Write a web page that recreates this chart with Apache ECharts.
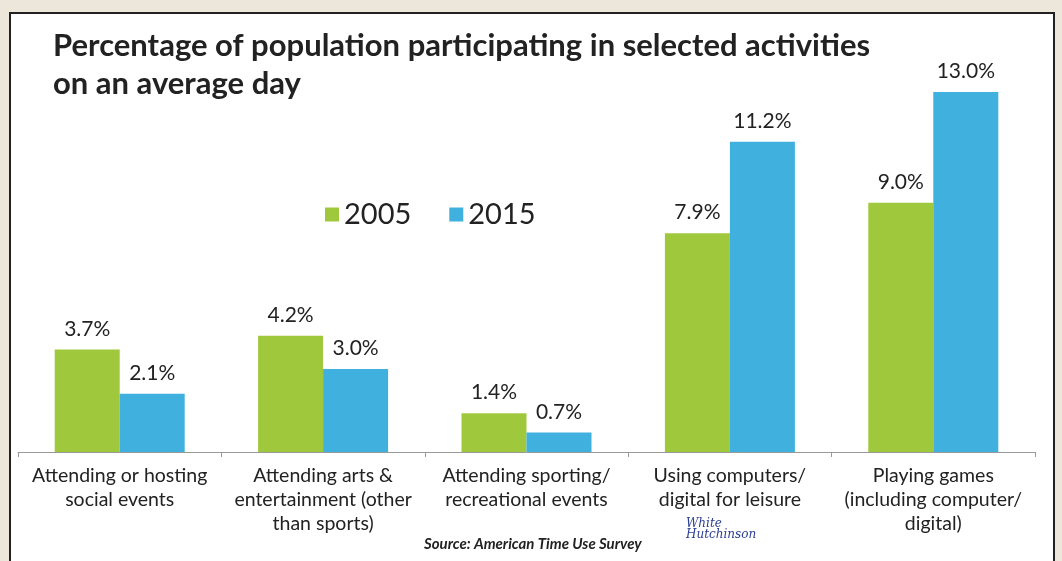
<!DOCTYPE html>
<html>
<head>
<meta charset="utf-8">
<script src="https://cdn.jsdelivr.net/npm/echarts@6/dist/echarts.min.js"></script>
<style>
html,body{margin:0;padding:0;background:#ece7da;}
#chart{width:1062px;height:561px;}
</style>
</head>
<body>
<div id="chart"></div>
<script>
const categories = [
  "Attending or hosting\nsocial events",
  "Attending arts &\nentertainment (other\nthan sports)",
  "Attending sporting/\nrecreational events",
  "Using computers/\ndigital for leisure",
  "Playing games\n(including computer/\ndigital)"
];
const seriesNames = ["2005", "2015"];
const values2005 = [3.7, 4.2, 1.4, 7.9, 9.0];
const values2015 = [2.1, 3.0, 0.7, 11.2, 13.0];
const titleText = "Percentage of population participating in selected activities\non an average day";
const sourceText = "Source: American Time Use Survey";

const chart = echarts.init(document.getElementById('chart'));
const font = 'Lato, "Open Sans", sans-serif';
const labelCfg = {
  show: true, position: 'top', distance: 10,
  fontFamily: font, fontSize: 21, color: '#222',
  formatter: p => p.value.toFixed(1) + '%'
};
chart.setOption({
  backgroundColor: '#ece7da',
  textStyle: { fontFamily: font },
  title: {
    text: titleText, left: 48, top: 22,
    textStyle: { fontFamily: font, fontSize: 31, fontWeight: 'bold', color: '#222', lineHeight: 38 }
  },
  legend: {
    data: seriesNames, left: 320, top: 195, icon: 'rect',
    itemWidth: 14, itemHeight: 14, itemGap: 38,
    textStyle: { fontFamily: font, fontSize: 29, color: '#222' }
  },
  graphic: [
    { type: 'rect', z: -10, shape: { x: 10, y: 13, width: 1044, height: 560 },
      style: { fill: '#ffffff', stroke: '#222', lineWidth: 2 } },
    { type: 'text', z: 10, left: 424, top: 537,
      style: { text: sourceText, font: 'italic bold 15px ' + font, fill: '#222' } },
    { type: 'text', z: 10, left: 686, top: 518,
      style: { text: 'White\nHutchinson', font: 'italic 12px "DejaVu Serif", serif', fill: '#2b3d92', lineHeight: 11 } }
  ],
  grid: { left: 18, right: 27, top: 92, bottom: 109 },
  xAxis: {
    type: 'category', data: categories,
    axisLine: { lineStyle: { color: '#999', width: 1 } },
    axisTick: { show: true, alignWithLabel: false, length: 5, lineStyle: { color: '#999' } },
    axisLabel: { fontFamily: font, fontSize: 19.5, color: '#222', lineHeight: 24, margin: 12, interval: 0 }
  },
  yAxis: { type: 'value', min: 0, max: 13, show: false, splitLine: { show: false } },
  series: [
    { name: seriesNames[0], type: 'bar', data: values2005, barWidth: 65, barGap: '0%',
      itemStyle: { color: '#a0c83d' }, label: labelCfg },
    { name: seriesNames[1], type: 'bar', data: values2015, barWidth: 65, barGap: '0%',
      itemStyle: { color: '#40b0df' }, label: labelCfg }
  ]
});
</script>
</body>
</html>
